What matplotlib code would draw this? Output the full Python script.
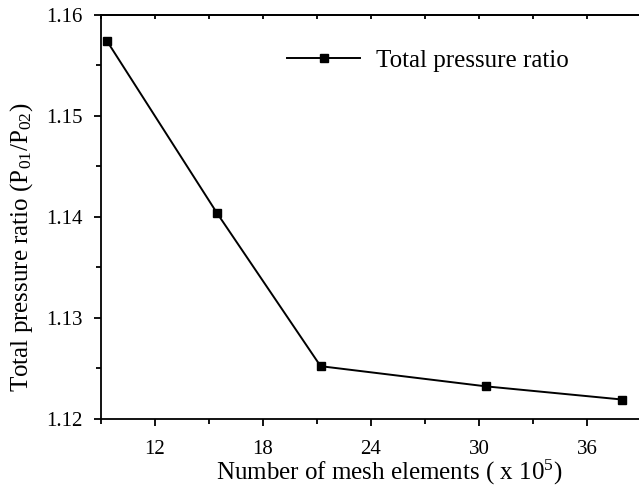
import numpy as np
import matplotlib
matplotlib.use('Agg')
import matplotlib.pyplot as plt
from matplotlib.ticker import MultipleLocator

plt.rcParams['font.family'] = ['Liberation Serif', 'DejaVu Serif']
plt.rcParams['mathtext.fontset'] = 'custom'
plt.rcParams['mathtext.rm'] = 'Liberation Serif'
plt.rcParams['mathtext.it'] = 'Liberation Serif:italic'
plt.rcParams['mathtext.default'] = 'rm'

# mesh independence data
mesh_elements = [9.33, 15.43, 21.2, 30.4, 37.94]   # x 10^5
pressure_ratio = [1.1574, 1.1404, 1.1252, 1.1232, 1.1219]
x_ticks = [12, 18, 24, 30, 36]

fig = plt.figure(figsize=(6.39, 4.91), dpi=100)
# px per unit on x is 18, axes run 9..40 (right edge falls off the canvas)
ax = fig.add_axes([101 / 639, 1 - 418.7 / 491, 558 / 639, 404 / 491])

ax.plot(mesh_elements, pressure_ratio, color='black', linewidth=1.4,
        marker='s', markersize=5.5, label='Total pressure ratio')

ax.set_xlim(9, 40)
ax.set_ylim(1.12, 1.16)
ax.set_xticks(x_ticks)
ax.xaxis.set_minor_locator(MultipleLocator(3))
ax.yaxis.set_major_locator(MultipleLocator(0.01))
ax.yaxis.set_minor_locator(MultipleLocator(0.005))
ax.yaxis.set_major_formatter(plt.FormatStrFormatter('%.2f'))

for s in ax.spines.values():
    s.set_linewidth(1.3)
ax.spines['right'].set_visible(False)

ax.tick_params(axis='both', which='major', direction='out', length=5,
               width=1.3, labelsize=15)
ax.tick_params(axis='both', which='minor', direction='out', length=3.5,
               width=1.3)
ax.tick_params(axis='x', which='major', pad=10)
ax.tick_params(axis='y', which='major', pad=8)

# small inward ticks along the top edge
top = ax.secondary_xaxis('top')
top.set_xticks(x_ticks)
top.xaxis.set_minor_locator(MultipleLocator(3))
top.tick_params(which='both', direction='in', length=3, width=1.3,
                labeltop=False)
top.spines['top'].set_linewidth(1.3)

ax.set_xlabel('Number of mesh elements ( x 10$^{5}$)', fontsize=18)
ax.xaxis.set_label_coords(0.517, -0.097)
ax.set_ylabel('Total pressure ratio (P$_{01}$/P$_{02}$)', fontsize=18)
ax.yaxis.set_label_coords(-0.118, 0.425)

ax.legend(loc='center left', bbox_to_anchor=(186 / 558, 0.886), frameon=False,
          fontsize=18, handlelength=2.92, handletextpad=0.64,
          borderpad=0, borderaxespad=0)

fig.savefig('out.png', dpi=100)
